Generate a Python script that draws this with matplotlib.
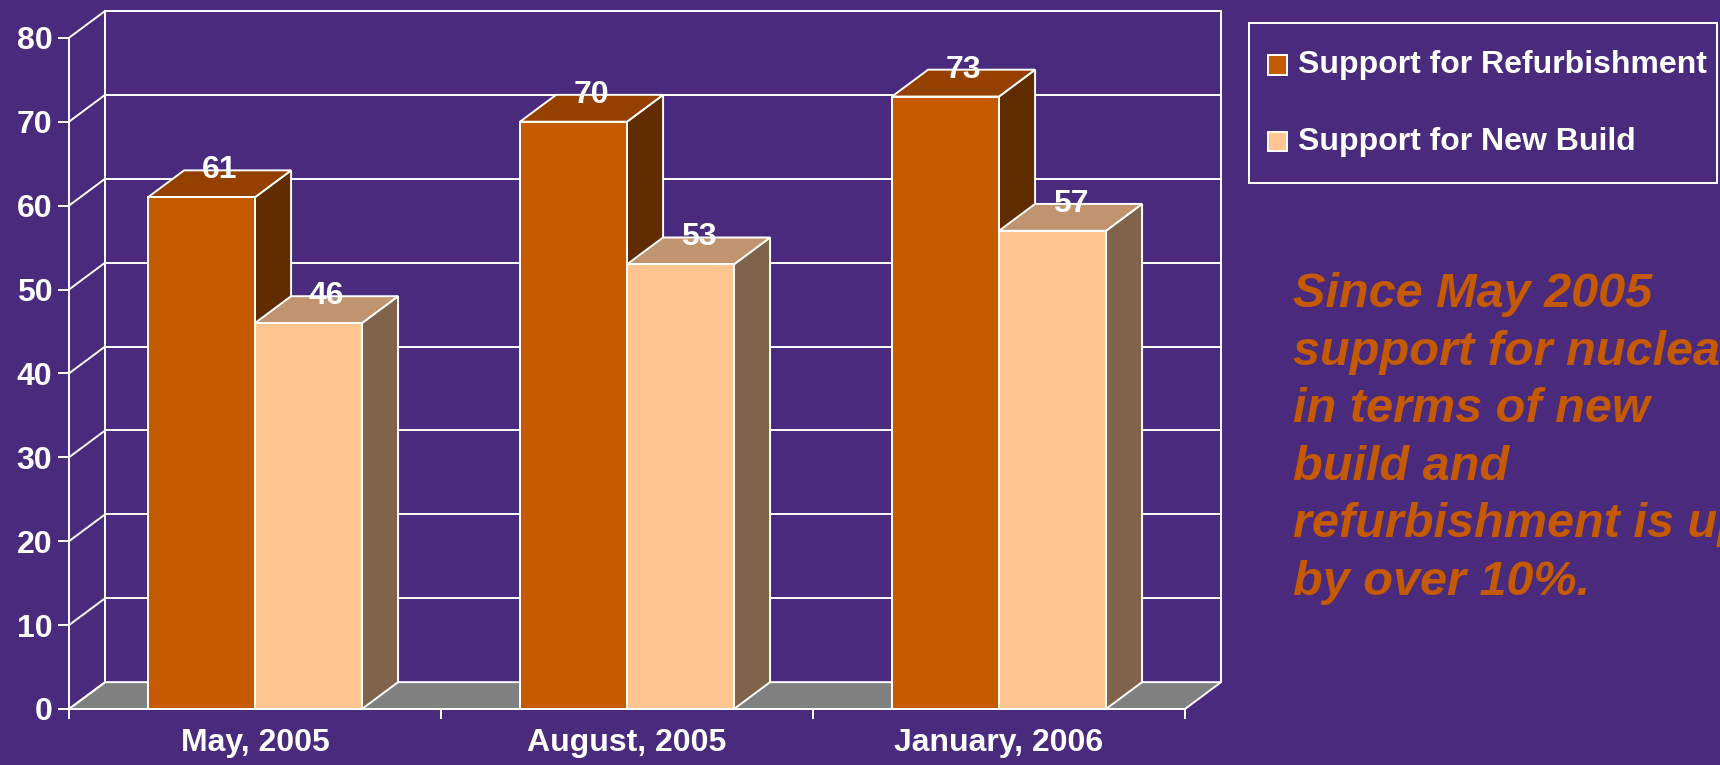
import numpy as np
import matplotlib.pyplot as plt
from matplotlib.patches import Polygon, Rectangle

plt.rcParams['font.family'] = ['Liberation Sans', 'DejaVu Sans']
plt.rcParams['font.weight'] = 'bold'

# data
categories = ['May, 2005', 'August, 2005', 'January, 2006']
series_names = ['Support for Refurbishment', 'Support for New Build']
refurbishment = [61, 70, 73]
new_build = [46, 53, 57]
y_ticks = [0, 10, 20, 30, 40, 50, 60, 70, 80]
note_lines = ['Since May 2005', 'support for nuclear', 'in terms of new',
              'build and', 'refurbishment is up', 'by over 10%.']

# styles
BG = '#4A2A7C'
ORANGE = '#C55A00'
front_colors = ['#C55A00', '#FFC591']
top_colors = ['#964000', '#C0946E']
side_colors = ['#602C00', '#7F634A']
FLOOR = '#808080'
LW = 1.4
FS = 23

W, H = 1720, 765
PX_X, PX_Y = 372.0, 8.39      # pixels per category / per y unit
X0_PX, Y0_PX = 69, 709         # pixel position of data origin
DX, DY = 0.097, 3.2            # depth offset in data units
BAR_W, GAP = 0.2876, 0.2124
XMAX, YMAX = 3.1, 83.2


def fx(px):
    return px / W


def fy(py):
    return 1 - py / H


fig = plt.figure(figsize=(W / 100, H / 100), dpi=100, facecolor=BG)
ax = fig.add_axes([fx(X0_PX), fy(Y0_PX), XMAX * PX_X / W, YMAX * PX_Y / H])
ax.patch.set_visible(False)
ax.set_xlim(0, XMAX)
ax.set_ylim(0, YMAX)

# floor
ax.add_patch(Polygon([(0, 0), (3, 0), (3 + DX, DY), (DX, DY)], closed=True,
                     facecolor=FLOOR, edgecolor='white', lw=LW, zorder=1,
                     clip_on=False))

# walls and gridlines
for y in y_ticks:
    ax.plot([0, DX], [y, y + DY], color='white', lw=LW, zorder=1, clip_on=False)
    if y > 0:
        ax.plot([DX, 3 + DX], [y + DY, y + DY], color='white', lw=LW, zorder=1,
                clip_on=False)
ax.plot([DX, DX], [DY, y_ticks[-1] + DY], color='white', lw=LW, zorder=1, clip_on=False)
ax.plot([3 + DX, 3 + DX], [DY, y_ticks[-1] + DY], color='white', lw=LW, zorder=1,
        clip_on=False)


def draw_box(x0, v, k, z):
    x1 = x0 + BAR_W
    kw = dict(edgecolor='white', lw=LW, zorder=z, clip_on=False, joinstyle='miter')
    ax.add_patch(Polygon([(x1, 0), (x1 + DX, DY), (x1 + DX, v + DY), (x1, v)],
                         facecolor=side_colors[k], **kw))
    ax.add_patch(Polygon([(x0, v), (x1, v), (x1 + DX, v + DY), (x0 + DX, v + DY)],
                         facecolor=top_colors[k], **kw))
    ax.add_patch(Rectangle((x0, 0), BAR_W, v, facecolor=front_colors[k], **kw))
    ax.text(x0 + BAR_W / 2 + DX / 2, v + DY, str(v), ha='center', va='center',
            color='white', fontsize=FS, fontweight='bold', zorder=20)


z = 3
for i in range(len(categories)):
    for k, vals in enumerate([refurbishment, new_build]):
        draw_box(i + GAP + k * BAR_W, vals[i], k, z)
        z += 1

# axes, ticks
for s in ['top', 'right']:
    ax.spines[s].set_visible(False)
for s in ['left', 'bottom']:
    ax.spines[s].set_color('white')
    ax.spines[s].set_linewidth(LW)
    ax.spines[s].set_zorder(2)
ax.spines['left'].set_bounds(0, y_ticks[-1])
ax.spines['bottom'].set_bounds(0, 3)

ax.set_yticks(y_ticks)
ax.set_yticklabels([str(t) for t in y_ticks])
ax.tick_params(axis='y', colors='white', length=8, width=LW, labelsize=FS, pad=4)
ax.set_xticks(np.arange(len(categories) + 1))
ax.set_xticklabels([])
ax.set_xticks(np.arange(len(categories)) + 0.5, minor=True)
ax.set_xticklabels(categories, minor=True)
ax.tick_params(axis='x', which='major', colors='white', length=7.2, width=LW)
ax.tick_params(axis='x', which='minor', length=0, labelsize=FS, labelcolor='white',
               pad=13.5)

# legend
fig.add_artist(Rectangle((fx(1249), fy(182.7)), fx(1717) - fx(1249),
                         fy(22.7) - fy(182.7), transform=fig.transFigure,
                         fill=False, edgecolor='white', lw=LW))
for k, (name, row_y) in enumerate(zip(series_names, [65, 141.7])):
    fig.add_artist(Rectangle((fx(1268), fy(row_y + 9.5)), 19 / W, 19 / H,
                             transform=fig.transFigure, facecolor=front_colors[k],
                             edgecolor='white', lw=LW))
    fig.text(fx(1297.5), fy(row_y), name, ha='left', va='center', color='white',
             fontsize=FS, fontweight='bold')

# note text
for j, line in enumerate(note_lines):
    fig.text(fx(1293), fy(307 + j * 57.6), line, ha='left', va='baseline',
             color=ORANGE, fontsize=35, fontweight='bold', style='italic')

fig.savefig('out.png', dpi=100, facecolor=BG)
